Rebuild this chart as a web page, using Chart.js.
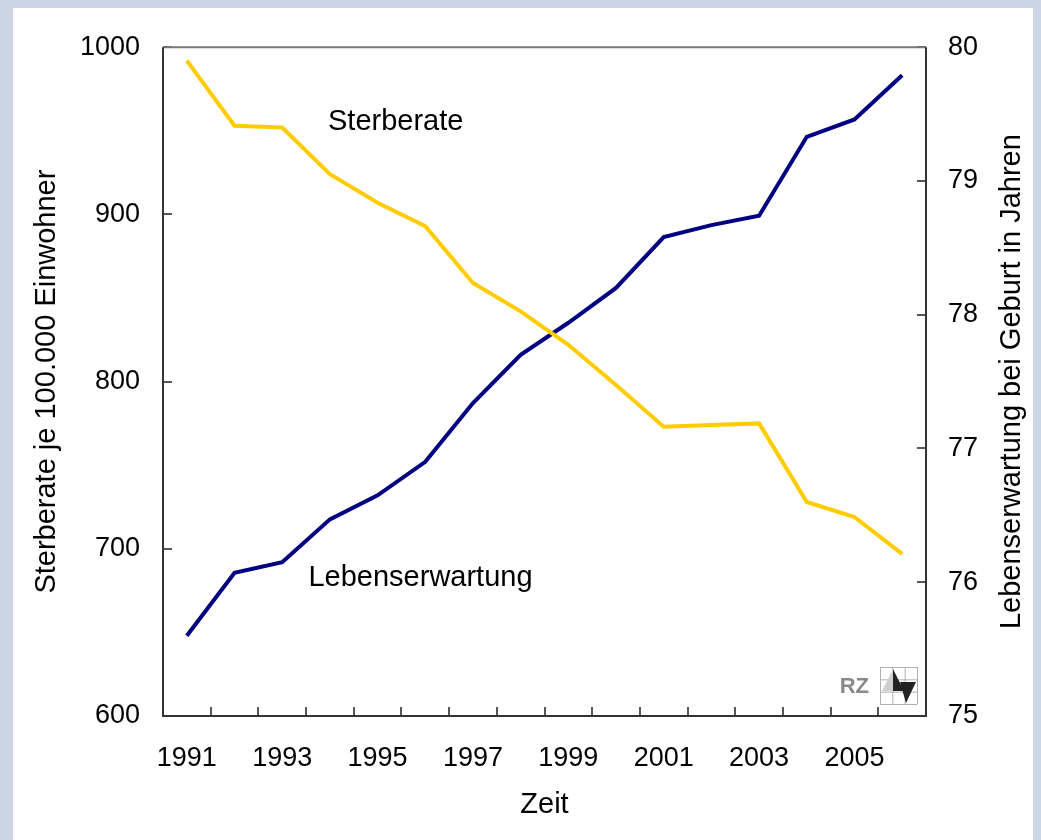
<!DOCTYPE html>
<html>
<head>
<meta charset="utf-8">
<script src="https://cdn.jsdelivr.net/npm/chart.js@4/dist/chart.umd.min.js"></script>
<style>
  html, body { margin: 0; padding: 0; background: #ccd5e6; }
  #panel { position: absolute; left: 13px; top: 8px; width: 1020px; height: 832px; background: #fff; }
</style>
</head>
<body>
<div id="panel"><canvas id="chart"></canvas></div>
<script>
const years = ['1991', '1992', '1993', '1994', '1995', '1996', '1997', '1998',
               '1999', '2000', '2001', '2002', '2003', '2004', '2005', '2006'];
// deaths per 100,000 inhabitants (left axis)
const sterberate = [992, 953, 952, 924, 907, 893, 859, 842, 822, 798, 773, 774, 775, 728, 719, 697];
// life expectancy at birth in years (right axis)
const lebenserwartung = [75.60, 76.07, 76.15, 76.47, 76.65, 76.90, 77.34, 77.70,
                         77.94, 78.20, 78.58, 78.67, 78.74, 79.33, 79.46, 79.79];
const leftTicks = [600, 700, 800, 900, 1000];
const rightTicks = [75, 76, 77, 78, 79, 80];

const FONT = 'Liberation Sans, Arial, Helvetica, sans-serif';
const YELLOW = '#ffcc00';
const NAVY = '#000080';
const AXIS = '#222222';

// frame, inward tick marks, series labels, right title, logo
const decorations = {
    id: 'decorations',
    afterDraw(chart) {
        const ctx = chart.ctx;
        const a = chart.chartArea;
        const x = chart.scales.x, yL = chart.scales.yL, yR = chart.scales.yR;
        const tick = 9;
        ctx.save();

        // tick marks pointing into the plot
        ctx.strokeStyle = AXIS;
        ctx.lineWidth = 1.5;
        ctx.beginPath();
        for (let i = 1; i < years.length; i++) {
            const px = Math.round((x.getPixelForValue(i - 1) + x.getPixelForValue(i)) / 2);
            ctx.moveTo(px, a.bottom);
            ctx.lineTo(px, a.bottom - tick);
        }
        leftTicks.forEach(v => {
            const py = Math.round(yL.getPixelForValue(v));
            ctx.moveTo(a.left, py);
            ctx.lineTo(a.left + tick, py);
        });
        rightTicks.forEach(v => {
            const py = Math.round(yR.getPixelForValue(v));
            ctx.moveTo(a.right, py);
            ctx.lineTo(a.right - tick, py);
        });
        ctx.stroke();

        // frame
        ctx.lineWidth = 2;
        ctx.strokeStyle = '#777777';
        ctx.beginPath();
        ctx.moveTo(a.left, a.top);
        ctx.lineTo(a.right, a.top);
        ctx.stroke();
        ctx.strokeStyle = '#333333';
        ctx.beginPath();
        ctx.moveTo(a.left, a.top);
        ctx.lineTo(a.left, a.bottom);
        ctx.lineTo(a.right, a.bottom);
        ctx.lineTo(a.right, a.top);
        ctx.stroke();

        // series labels
        ctx.fillStyle = '#000';
        ctx.font = '29px ' + FONT;
        ctx.textAlign = 'center';
        ctx.textBaseline = 'middle';
        ctx.fillText('Sterberate', x.getPixelForValue(4.38), yL.getPixelForValue(955));
        ctx.fillText('Lebenserwartung', x.getPixelForValue(4.9), yR.getPixelForValue(76.03));

        // right axis title, reading bottom to top
        ctx.save();
        ctx.translate(yR.right - 21, (a.top + a.bottom) / 2);
        ctx.rotate(-Math.PI / 2);
        ctx.fillText('Lebenserwartung bei Geburt in Jahren', 0, 0);
        ctx.restore();

        // RZ logo
        ctx.fillStyle = '#8a8a8a';
        ctx.font = 'bold 22px ' + FONT;
        ctx.textAlign = 'right';
        ctx.fillText('RZ', a.right - 57, a.bottom - 29);
        const bx = a.right - 46, by = a.bottom - 49, bs = 37;
        ctx.strokeStyle = '#b0b0b0';
        ctx.lineWidth = 1;
        ctx.beginPath();
        for (let k = 0; k <= 3; k++) {
            ctx.moveTo(bx + k * bs / 3 + 0.5, by);
            ctx.lineTo(bx + k * bs / 3 + 0.5, by + bs);
            ctx.moveTo(bx, by + k * bs / 3 + 0.5);
            ctx.lineTo(bx + bs, by + k * bs / 3 + 0.5);
        }
        ctx.stroke();
        ctx.fillStyle = '#cfcfcf';
        ctx.beginPath();
        ctx.moveTo(bx + 2, by + 24);
        ctx.lineTo(bx + 13, by + 2);
        ctx.lineTo(bx + 13, by + 24);
        ctx.closePath();
        ctx.fill();
        ctx.fillStyle = '#222';
        ctx.beginPath();
        ctx.moveTo(bx + 13, by + 2);
        ctx.lineTo(bx + 24, by + 24);
        ctx.lineTo(bx + 13, by + 24);
        ctx.closePath();
        ctx.fill();
        ctx.beginPath();
        ctx.moveTo(bx + 20, by + 15);
        ctx.lineTo(bx + 36, by + 15);
        ctx.lineTo(bx + 26, by + 36);
        ctx.closePath();
        ctx.fill();

        ctx.restore();
    }
};

new Chart(document.getElementById('chart'), {
    type: 'line',
    data: {
        labels: years,
        datasets: [{
            label: 'Sterberate',
            data: sterberate,
            yAxisID: 'yL',
            borderColor: YELLOW,
            borderWidth: 4,
            pointRadius: 0,
            tension: 0
        }, {
            label: 'Lebenserwartung',
            data: lebenserwartung,
            yAxisID: 'yR',
            borderColor: NAVY,
            borderWidth: 4,
            pointRadius: 0,
            tension: 0
        }]
    },
    options: {
        responsive: true,
        maintainAspectRatio: false,
        animation: false,
        layout: { padding: { top: 37, left: 0, right: 0, bottom: 0 } },
        plugins: {
            legend: { display: false },
            tooltip: { enabled: false }
        },
        scales: {
            x: {
                offset: true,
                grid: { display: false, drawTicks: false },
                border: { display: false },
                ticks: {
                    autoSkip: false,
                    maxRotation: 0,
                    padding: 26,
                    color: '#000',
                    font: { family: FONT, size: 27 },
                    callback: function(value, index) {
                        return index % 2 === 0 ? years[index] : '';
                    }
                },
                title: {
                    display: true,
                    text: 'Zeit',
                    color: '#000',
                    font: { family: FONT, size: 29 },
                    padding: { top: 0, bottom: 18 }
                },
                afterFit: function(scale) { scale.height = 124; }
            },
            yL: {
                position: 'left',
                min: 600,
                max: 1000,
                grid: { display: false, drawTicks: false },
                border: { display: false },
                afterBuildTicks: function(scale) { scale.ticks = leftTicks.map(v => ({ value: v })); },
                ticks: {
                    padding: 23,
                    color: '#000',
                    font: { family: FONT, size: 27 },
                    callback: function(value) { return String(value); }
                },
                title: {
                    display: true,
                    text: 'Sterberate je 100.000 Einwohner',
                    color: '#000',
                    font: { family: FONT, size: 29 },
                    padding: { top: 17, bottom: 0 }
                },
                afterFit: function(scale) { scale.width = 150; }
            },
            yR: {
                position: 'right',
                min: 75,
                max: 80,
                grid: { display: false, drawTicks: false },
                border: { display: false },
                afterBuildTicks: function(scale) { scale.ticks = rightTicks.map(v => ({ value: v })); },
                ticks: {
                    padding: 22,
                    color: '#000',
                    font: { family: FONT, size: 27 },
                    callback: function(value) { return String(value); }
                },
                afterFit: function(scale) { scale.width = 107; }
            }
        }
    },
    plugins: [decorations]
});
</script>
</body>
</html>
